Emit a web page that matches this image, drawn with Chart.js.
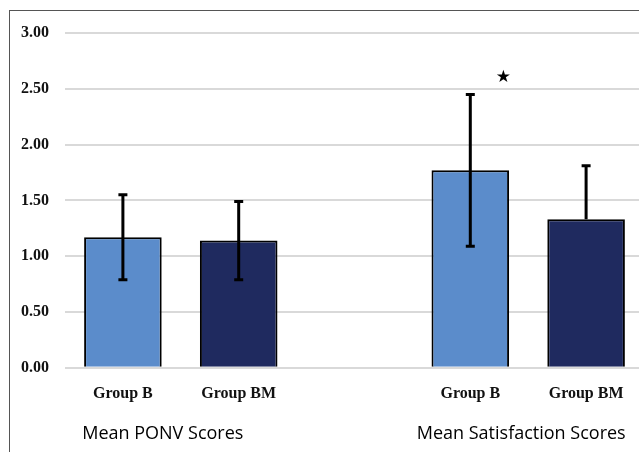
<!DOCTYPE html>
<html>
<head>
<meta charset="utf-8">
<script src="https://cdn.jsdelivr.net/npm/chart.js@4/dist/chart.umd.min.js"></script>
<style>
  html, body { margin: 0; padding: 0; background: #fff; overflow: hidden; }
  #frame {
    position: absolute;
    left: 9px;
    top: 10px;
    width: 660px;
    height: 460px;
    border: 1.5px solid #555;
    box-sizing: border-box;
  }
  #wrap { position: absolute; left: 0; top: 0; width: 644px; height: 452px; }
</style>
</head>
<body>
<div id="frame"></div>
<div id="wrap"><canvas id="chart"></canvas></div>
<script>
const categories = ["Group B", "Group BM", "", "Group B", "Group BM"];
const means = [1.17, 1.14, null, 1.77, 1.33];
const sds = [0.38, 0.35, null, 0.68, 0.48];
const showLower = [true, true, false, true, false];
const barColors = ["#5B8CCB", "#1F2A5F", "#ffffff", "#5B8CCB", "#1F2A5F"];
const groupTitles = ["Mean PONV Scores", "Mean Satisfaction Scores"];
const yTicks = [0, 0.5, 1, 1.5, 2, 2.5, 3];
const starValue = 2.6;

const errorBars = {
  id: "errorBars",
  afterDatasetsDraw(chart) {
    const { ctx, scales } = chart;
    const meta = chart.getDatasetMeta(0);
    ctx.save();
    ctx.strokeStyle = "#000";
    ctx.lineWidth = 3;
    meta.data.forEach((bar, i) => {
      if (means[i] == null) return;
      const top = scales.y.getPixelForValue(means[i] + sds[i]);
      const bottom = showLower[i]
        ? scales.y.getPixelForValue(means[i] - sds[i])
        : scales.y.getPixelForValue(means[i]);
      ctx.beginPath();
      ctx.moveTo(bar.x, top);
      ctx.lineTo(bar.x, bottom);
      ctx.moveTo(bar.x - 4.5, top);
      ctx.lineTo(bar.x + 4.5, top);
      if (showLower[i]) {
        ctx.moveTo(bar.x - 4.5, bottom);
        ctx.lineTo(bar.x + 4.5, bottom);
      }
      ctx.stroke();
    });

    // significance star over satisfaction group B
    const starX = scales.x.getPixelForValue(3) + 33;
    ctx.fillStyle = "#000";
    ctx.font = "17px 'DejaVu Sans'";
    ctx.textAlign = "center";
    ctx.textBaseline = "middle";
    ctx.fillText("\u2605", starX, scales.y.getPixelForValue(starValue));

    // group titles under the category labels
    ctx.font = "18px 'Open Sans', 'Noto Sans', sans-serif";
    ctx.fillStyle = "#000";
    const x0 = (scales.x.getPixelForValue(0) + scales.x.getPixelForValue(1)) / 2 - 18;
    const x1 = (scales.x.getPixelForValue(3) + scales.x.getPixelForValue(4)) / 2 - 7;
    ctx.fillText(groupTitles[0], x0, 434);
    ctx.fillText(groupTitles[1], x1, 434);
    ctx.restore();
  },
};

new Chart(document.getElementById("chart"), {
  type: "bar",
  data: {
    labels: categories,
    datasets: [
      {
        data: means,
        backgroundColor: barColors,
        borderColor: "#000",
        borderWidth: 2,
        categoryPercentage: 0.67,
        barPercentage: 1,
      },
    ],
  },
  options: {
    responsive: true,
    maintainAspectRatio: false,
    animation: false,
    layout: { padding: { top: 33, bottom: 41, left: 5 } },
    plugins: {
      legend: { display: false },
      tooltip: { enabled: false },
    },
    scales: {
      x: {
        grid: { display: false },
        border: { display: false },
        ticks: {
          color: "#111",
          padding: 8,
          font: { family: "'Liberation Serif', serif", size: 16, weight: "bold" },
        },
      },
      y: {
        min: 0,
        max: 3,
        afterBuildTicks: (axis) => {
          axis.ticks = yTicks.map((v) => ({ value: v }));
        },
        grid: { color: "#d9d9d9", lineWidth: 2, drawTicks: false },
        border: { display: false },
        ticks: {
          color: "#111",
          padding: 16,
          callback: (v) => Number(v).toFixed(2),
          font: { family: "'Liberation Serif', serif", size: 16, weight: "bold" },
        },
      },
    },
  },
  plugins: [errorBars],
});
</script>
</body>
</html>
